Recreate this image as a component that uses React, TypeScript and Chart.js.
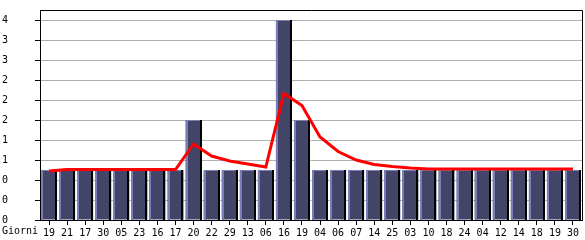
import React, { useEffect, useRef } from "react";
import { Chart, registerables } from "chart.js";

Chart.register(...registerables);

const categories = ["19","21","17","30","05","23","16","17","20","22","29","13","06","16","19","04","06","07","14","25","03","10","18","24","04","12","14","18","19","30"];
const barValues = [1,1,1,1,1,1,1,1,2,1,1,1,1,4,2,1,1,1,1,1,1,1,1,1,1,1,1,1,1,1];
const lineValues = [0.98,1.01,1.01,1.01,1.01,1.01,1.01,1.01,1.52,1.28,1.18,1.12,1.06,2.53,2.29,1.66,1.37,1.2,1.11,1.07,1.04,1.02,1.02,1.02,1.02,1.02,1.02,1.02,1.02,1.02];
const yTicks = [0,0.4,0.8,1.2,1.6,2.0,2.4,2.8,3.2,3.6,4.0];
const xTitle = "Giorni";

const FONT = "'DejaVu Sans Mono', monospace";
const yLabel = (v: number) => String(Math.floor(v + 1e-9));

export default function App() {
  const ref = useRef<HTMLCanvasElement>(null);
  useEffect(() => {
    document.body.style.margin = "0";
    const canvas = ref.current!;
    const edgePlugin = {
      id: "edges",
      afterDatasetDraw(chart: any, args: any) {
        if (args.index !== 1) return;
        const ctx = chart.ctx;
        const meta = chart.getDatasetMeta(1);
        ctx.save();
        meta.data.forEach((el: any) => {
          const left = Math.round(el.x - el.width / 2);
          const right = Math.round(el.x + el.width / 2);
          const top = Math.round(el.y);
          const base = Math.round(el.base);
          ctx.fillStyle = "#7c7cb6";
          ctx.fillRect(left, top, 2, base - top);
          ctx.fillRect(left, top, right - left - 2, 1);
          ctx.fillStyle = "#000000";
          ctx.fillRect(right - 2, top, 2, base - top);
        });
        ctx.restore();
      },
    };
    const framePlugin = {
      id: "frame",
      afterDraw(chart: any) {
        const { ctx, chartArea } = chart;
        const yScale = chart.scales.y;
        ctx.save();
        ctx.strokeStyle = "#000";
        ctx.lineWidth = 1;
        ctx.beginPath();
        ctx.moveTo(chartArea.left, Math.round(chartArea.top) + 0.5);
        ctx.lineTo(Math.round(chartArea.right) + 0.5, Math.round(chartArea.top) + 0.5);
        ctx.lineTo(Math.round(chartArea.right) + 0.5, chartArea.bottom);
        ctx.stroke();
        ctx.fillStyle = "#000";
        ctx.font = "10px " + FONT;
        ctx.textBaseline = "middle";
        ctx.textAlign = "left";
        ctx.fillText(xTitle, 2, 231);
        yScale.ticks.forEach((t: any) => {
          ctx.fillText(yLabel(t.value), 2, yScale.getPixelForValue(t.value));
        });
        ctx.restore();
      },
    };
    const chart = new Chart(canvas, {
      type: "bar",
      data: {
        labels: categories,
        datasets: [
          {
            type: "line",
            data: lineValues,
            borderColor: "#ff0000",
            borderWidth: 3,
            pointRadius: 0,
            tension: 0,
            order: 0,
          } as any,
          {
            type: "bar",
            data: barValues,
            backgroundColor: "#424468",
            borderWidth: 0,
            barPercentage: 0.885,
            categoryPercentage: 1,
            order: 1,
          } as any,
        ],
      },
      options: {
        animation: false,
        responsive: false,
        layout: { padding: { top: 10, right: 3, left: 0, bottom: 0 } },
        plugins: { legend: { display: false }, tooltip: { enabled: false } },
        scales: {
          x: {
            offset: true,
            grid: { drawOnChartArea: false, tickLength: 5, tickColor: "#000", offset: false },
            border: { color: "#000" },
            ticks: { color: "#000", font: { family: FONT, size: 10 }, maxRotation: 0, autoSkip: false, padding: 2 },
            afterFit(scale: any) { scale.height = 20; },
          },
          y: {
            min: 0,
            max: 4.2,
            afterBuildTicks(scale: any) { scale.ticks = yTicks.map((v) => ({ value: v })); },
            grid: { color: "#b0b0b0", tickLength: 5, tickColor: "#000" },
            border: { color: "#000" },
            ticks: { display: false },
            afterFit(scale: any) { scale.width = 40; },
          },
        },
      },
      plugins: [edgePlugin, framePlugin],
    } as any);
    return () => chart.destroy();
  }, []);
  return <canvas ref={ref} width={585} height={240} style={{ display: "block" }} />;
}
